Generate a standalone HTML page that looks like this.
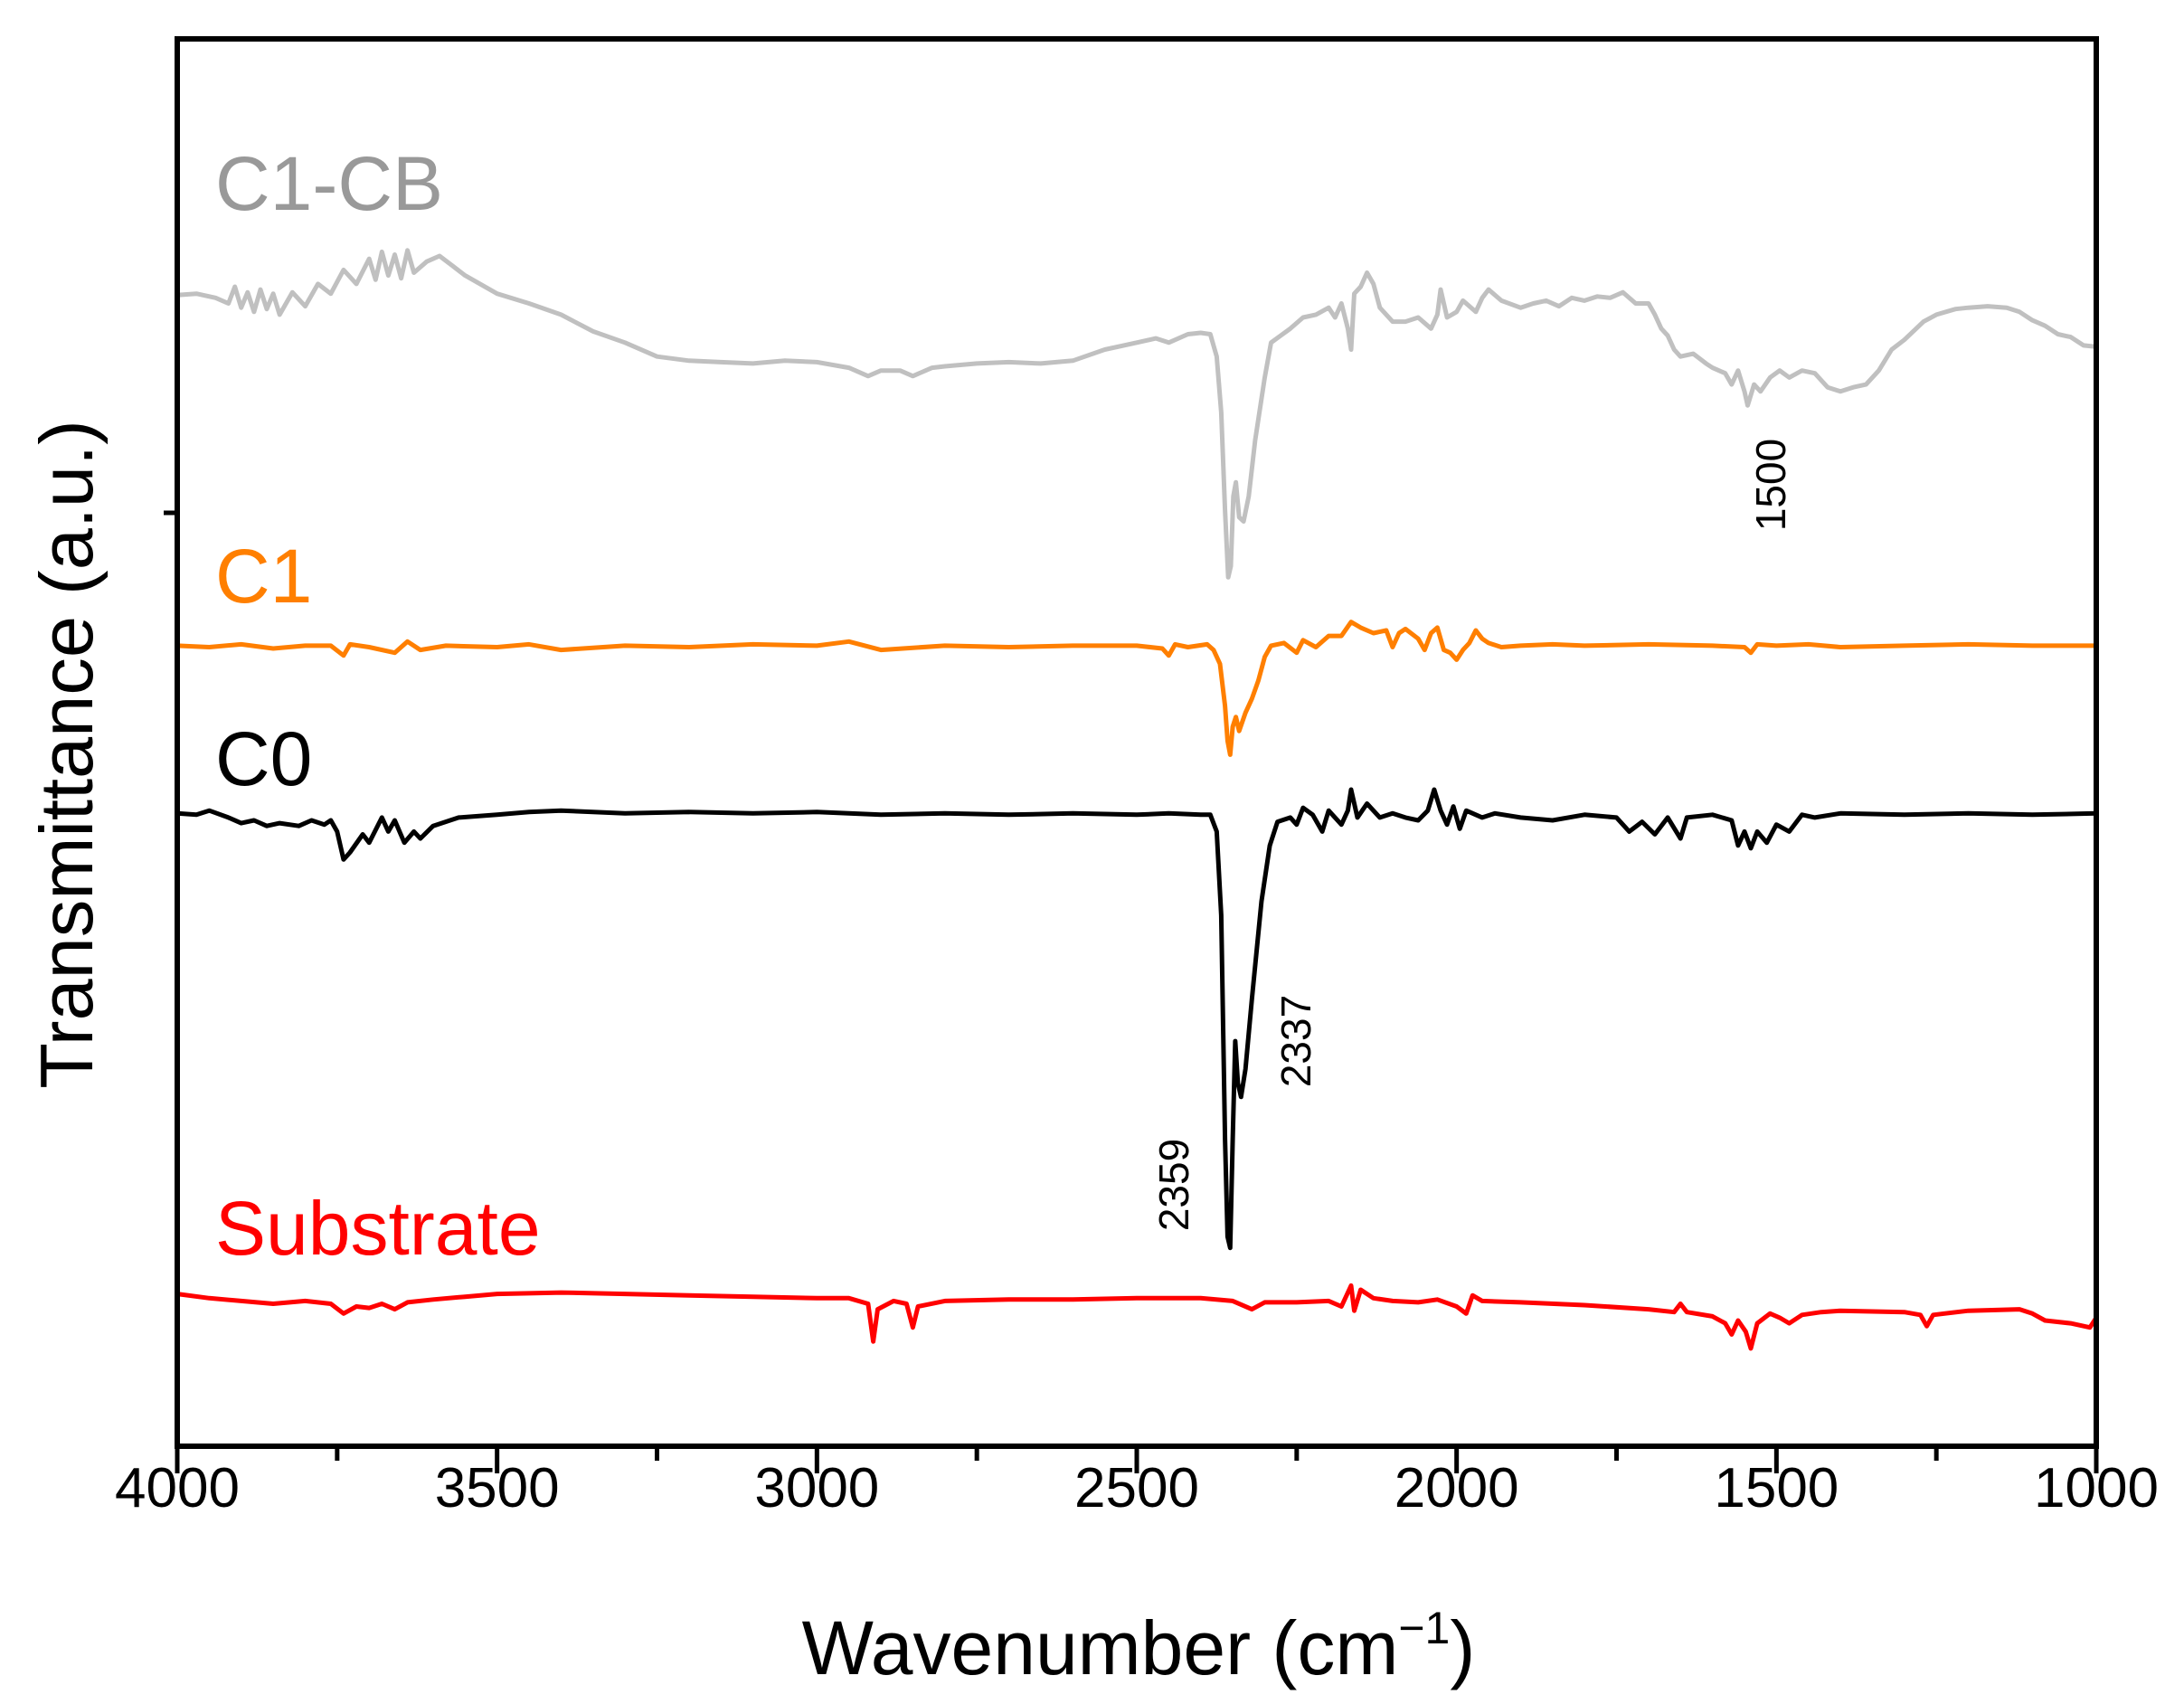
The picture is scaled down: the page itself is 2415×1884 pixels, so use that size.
<!DOCTYPE html>
<html><head><meta charset="utf-8"><style>
html,body{margin:0;padding:0;background:#fff;}
svg{display:block;font-family:"Liberation Sans",Arial,sans-serif;}
</style></head><body>
<svg id="chart" width="2415" height="1884" viewBox="0 0 2415 1884" xmlns="http://www.w3.org/2000/svg">
<g id="series"></g>
<rect x="196" y="43" width="2122" height="1556" fill="none" stroke="#000" stroke-width="6"/>
<g id="ticks"></g>
<line x1="181" y1="567" x2="196" y2="567" stroke="#000" stroke-width="5"/>
<text x="1259" y="1851" font-size="84" text-anchor="middle">Wavenumber (cm<tspan font-size="50" dy="-34">−1</tspan><tspan dy="34">)</tspan></text>
<text transform="translate(102,834) rotate(-90)" font-size="83" text-anchor="middle">Transmittance (a.u.)</text>
<text x="238" y="232" font-size="84" fill="#999">C1-CB</text>
<text x="238" y="666" font-size="84" fill="#ff7f00">C1</text>
<text x="238" y="868" font-size="84" fill="#000">C0</text>
<text x="238" y="1387" font-size="84" fill="#ff0000">Substrate</text>
<text transform="translate(1974,536) rotate(-90)" font-size="46" text-anchor="middle">1500</text>
<text transform="translate(1449,1151) rotate(-90)" font-size="46" text-anchor="middle">2337</text>
<text transform="translate(1314,1310) rotate(-90)" font-size="46" text-anchor="middle">2359</text>
</svg>
<script>
const xTicks=[4000,3500,3000,2500,2000,1500,1000];
const xMinor=[3750,3250,2750,2250,1750,1250];
// values: a.u. (height above bottom of plot, in display units)
const c1cb=[[4000,824],[3970,825],[3940,822],[3920,818],[3910,830],[3900,815],[3890,826],[3880,812],[3870,828],[3860,814],[3850,825],[3840,810],[3820,826],[3800,816],[3780,832],[3760,825],[3740,842],[3720,832],[3700,850],[3690,835],[3680,855],[3670,838],[3660,853],[3650,836],[3640,856],[3630,840],[3610,848],[3590,852],[3570,845],[3550,838],[3500,825],[3450,818],[3400,810],[3350,798],[3300,790],[3250,780],[3200,777],[3150,776],[3100,775],[3050,777],[3000,776],[2950,772],[2920,766],[2900,770],[2870,770],[2850,766],[2820,772],[2800,773],[2750,775],[2700,776],[2650,775],[2600,777],[2550,785],[2500,790],[2470,793],[2450,790],[2420,796],[2400,797],[2385,796],[2375,780],[2368,740],[2362,670],[2357,622],[2353,630],[2349,680],[2345,690],[2340,665],[2333,662],[2325,680],[2315,720],[2300,765],[2290,790],[2275,795],[2260,800],[2240,808],[2220,810],[2200,815],[2190,808],[2180,818],[2170,800],[2165,785],[2160,825],[2150,830],[2140,840],[2130,832],[2120,815],[2100,805],[2080,805],[2060,808],[2040,800],[2030,810],[2025,828],[2015,808],[2000,812],[1990,820],[1970,812],[1960,822],[1950,828],[1930,820],[1900,815],[1880,818],[1860,820],[1840,816],[1820,822],[1800,820],[1780,823],[1760,822],[1740,826],[1720,818],[1700,818],[1690,810],[1680,800],[1670,795],[1660,785],[1650,780],[1630,782],[1610,775],[1600,772],[1580,768],[1570,760],[1560,770],[1550,755],[1545,745],[1535,760],[1525,755],[1510,765],[1495,770],[1480,765],[1460,770],[1440,768],[1420,758],[1400,755],[1380,758],[1360,760],[1340,770],[1320,785],[1300,792],[1270,805],[1250,810],[1220,814],[1200,815],[1170,816],[1140,815],[1120,812],[1100,806],[1080,802],[1060,796],[1040,794],[1020,788],[1000,787]];
const c1=[[4000,573],[3950,572],[3900,574],[3850,571],[3800,573],[3760,573],[3740,566],[3730,574],[3700,572],[3660,568],[3640,576],[3620,570],[3580,573],[3500,572],[3450,574],[3400,570],[3300,573],[3200,572],[3100,574],[3000,573],[2950,576],[2900,570],[2800,573],[2700,572],[2600,573],[2500,573],[2460,571],[2450,566],[2440,574],[2420,572],[2390,574],[2380,570],[2370,560],[2362,530],[2358,505],[2354,495],[2350,515],[2345,522],[2340,512],[2330,525],[2320,535],[2310,548],[2300,565],[2290,573],[2270,575],[2250,568],[2240,577],[2220,572],[2200,580],[2180,580],[2165,590],[2150,586],[2130,582],[2110,584],[2100,572],[2090,582],[2080,585],[2060,578],[2050,570],[2040,582],[2030,586],[2020,570],[2010,568],[2000,563],[1990,570],[1980,575],[1970,584],[1960,578],[1950,575],[1930,572],[1900,573],[1850,574],[1800,573],[1700,574],[1600,573],[1550,572],[1540,568],[1530,574],[1500,573],[1450,574],[1400,572],[1300,573],[1200,574],[1100,573],[1000,573]];
const c0=[[4000,453],[3970,452],[3950,455],[3920,450],[3900,446],[3880,448],[3860,444],[3840,446],[3810,444],[3790,448],[3770,445],[3760,448],[3750,440],[3740,420],[3730,425],[3710,438],[3700,432],[3680,450],[3670,440],[3660,448],[3645,432],[3630,440],[3620,435],[3600,444],[3560,450],[3500,452],[3450,454],[3400,455],[3300,453],[3200,454],[3100,453],[3000,454],[2900,452],[2800,453],[2700,452],[2600,453],[2500,452],[2450,453],[2400,452],[2385,452],[2375,440],[2368,380],[2362,220],[2358,150],[2354,142],[2350,220],[2346,290],[2342,260],[2337,250],[2330,270],[2320,320],[2305,390],[2292,430],[2280,447],[2260,450],[2250,445],[2240,457],[2225,452],[2210,440],[2200,455],[2180,445],[2170,455],[2165,470],[2155,450],[2140,460],[2120,450],[2100,453],[2080,450],[2060,448],[2045,455],[2035,470],[2025,455],[2015,445],[2005,458],[1995,442],[1985,455],[1960,450],[1940,453],[1900,450],[1850,448],[1800,452],[1750,450],[1730,440],[1710,447],[1690,438],[1670,450],[1650,435],[1640,450],[1600,452],[1570,448],[1560,430],[1550,440],[1540,428],[1530,440],[1515,432],[1500,445],[1480,440],[1460,452],[1440,450],[1400,453],[1300,452],[1200,453],[1100,452],[1000,453]];
const substrate=[[4000,109],[3950,106],[3900,104],[3850,102],[3800,104],[3760,102],[3740,95],[3720,100],[3700,99],[3680,102],[3660,98],[3640,103],[3600,105],[3550,107],[3500,109],[3400,110],[3300,109],[3200,108],[3100,107],[3000,106],[2950,106],[2920,102],[2912,75],[2905,98],[2880,104],[2860,102],[2850,85],[2842,100],[2800,104],[2700,105],[2600,105],[2500,106],[2400,106],[2350,104],[2320,98],[2300,103],[2250,103],[2200,104],[2180,100],[2165,115],[2160,97],[2150,112],[2130,106],[2100,104],[2060,103],[2030,105],[2000,100],[1985,95],[1975,108],[1960,104],[1900,103],[1800,101],[1700,98],[1660,96],[1650,102],[1640,96],[1600,93],[1580,88],[1570,80],[1560,90],[1548,82],[1540,70],[1530,88],[1510,95],[1495,92],[1480,88],[1460,94],[1430,96],[1400,97],[1300,96],[1275,94],[1265,86],[1255,94],[1200,97],[1120,98],[1100,95],[1080,90],[1040,88],[1010,85],[1000,92]];
const L=196,R=2318,T=43,B=1599,S=1.5446;
function xs(w){return L+(4000-w)*(R-L)/3000;}
function ys(v){return B-v*S;}
const ns="http://www.w3.org/2000/svg";
const g=document.getElementById('series');
function draw(arr,color,name){
  const p=document.createElementNS(ns,'path');
  p.setAttribute('d',arr.map((d,i)=>(i?'L':'M')+xs(d[0]).toFixed(1)+','+ys(d[1]).toFixed(1)).join(''));
  p.setAttribute('fill','none');p.setAttribute('stroke',color);p.setAttribute('stroke-width','5');p.setAttribute('stroke-linejoin','round');
  
  
  g.appendChild(p);
}
draw(c1cb,'#c0c0c0','series-c1-cb');
draw(c1,'#ff7f00','series-c1');
draw(c0,'#000000','series-c0');
draw(substrate,'#ff0000','series-substrate');
const tg=document.getElementById('ticks');
xTicks.forEach(t=>{
  const l=document.createElementNS(ns,'line');
  l.setAttribute('x1',xs(t));l.setAttribute('x2',xs(t));l.setAttribute('y1',B);l.setAttribute('y2',B+30);
  l.setAttribute('stroke','#000');l.setAttribute('stroke-width','5');
  
  
  tg.appendChild(l);
  const tx=document.createElementNS(ns,'text');
  tx.setAttribute('x',xs(t));tx.setAttribute('y',1666);tx.setAttribute('font-size','62');tx.setAttribute('text-anchor','middle');
  tx.textContent=t;
  
  
  tg.appendChild(tx);
});
xMinor.forEach(t=>{
  const l=document.createElementNS(ns,'line');
  l.setAttribute('x1',xs(t));l.setAttribute('x2',xs(t));l.setAttribute('y1',B);l.setAttribute('y2',B+16);
  l.setAttribute('stroke','#000');l.setAttribute('stroke-width','5');
  
  
  tg.appendChild(l);
});
</script>
</body></html>
